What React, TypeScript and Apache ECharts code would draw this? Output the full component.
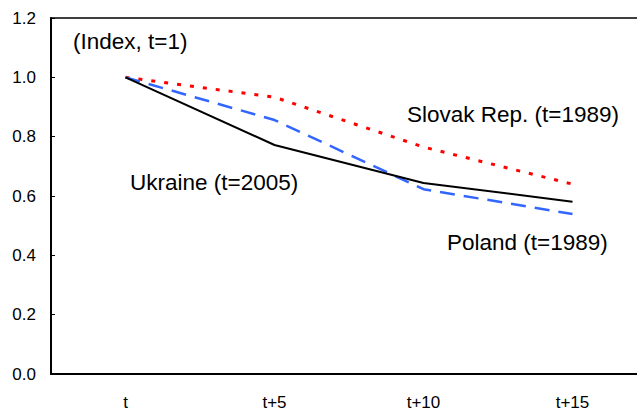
import React, { useEffect, useRef } from "react";
import * as echarts from "echarts";

const categories = ["t", "t+5", "t+10", "t+15"];
const ukraine = [1.0, 0.772, 0.644, 0.581];
const poland = [1.0, 0.856, 0.623, 0.539];
const slovak = [1.0, 0.933, 0.765, 0.64];
const yTicks = { min: 0, max: 1.2, interval: 0.2 };

const FONT = "Liberation Sans, Arial, sans-serif";

export default function App() {
  const ref = useRef<HTMLDivElement>(null);
  useEffect(() => {
    if (!ref.current) return;
    const chart = echarts.init(ref.current, null, { renderer: "svg" });
    const textStyle = (s: string, x: number, y: number) => ({
      type: "text",
      left: x,
      top: y,
      style: { text: s, fill: "#000", font: `22.5px ${FONT}`, textVerticalAlign: "top" },
    });
    chart.setOption({
      animation: false,
      backgroundColor: "#fff",
      grid: {
        left: 51,
        top: 18,
        bottom: 37,
        right: -10,
        containLabel: false,
        outerBoundsMode: "none",
        show: true,
        borderColor: "#000",
        borderWidth: 1.5,
      },
      xAxis: {
        type: "category",
        data: categories,
        boundaryGap: true,
        axisLine: { lineStyle: { color: "#000", width: 2 } },
        axisTick: { inside: true, length: 5, lineStyle: { color: "#000", width: 1 } },
        axisLabel: { color: "#000", fontSize: 17, fontFamily: FONT, margin: 20 },
        splitLine: { show: false },
      },
      yAxis: {
        type: "value",
        min: yTicks.min,
        max: yTicks.max,
        interval: yTicks.interval,
        axisLine: { show: true, lineStyle: { color: "#000", width: 2 } },
        axisTick: { show: true, inside: true, length: 4, lineStyle: { color: "#000", width: 1 } },
        axisLabel: {
          color: "#000",
          fontSize: 17,
          fontFamily: FONT,
          margin: 15,
          formatter: (v: number) => v.toFixed(1),
        },
        splitLine: { show: false },
      },
      series: [
        {
          name: "Slovak Rep.",
          type: "line",
          data: slovak,
          symbol: "none",
          lineStyle: { color: "#ff0000", width: 3, type: [4, 9] },
          z: 3,
        },
        {
          name: "Poland",
          type: "line",
          data: poland,
          symbol: "none",
          lineStyle: { color: "#3366ff", width: 2.5, type: [15, 9] },
          z: 4,
        },
        {
          name: "Ukraine",
          type: "line",
          data: ukraine,
          symbol: "none",
          lineStyle: { color: "#000", width: 2 },
          z: 5,
        },
      ],
      graphic: [
        textStyle("(Index, t=1)", 73, 30),
        textStyle("Ukraine (t=2005)", 130, 171),
        textStyle("Slovak Rep. (t=1989)", 407, 103),
        textStyle("Poland (t=1989)", 447, 231),
      ],
    });
    return () => chart.dispose();
  }, []);
  return (
    <div
      ref={ref}
      style={{ position: "fixed", left: 0, top: 0, width: 637, height: 411 }}
    />
  );
}
